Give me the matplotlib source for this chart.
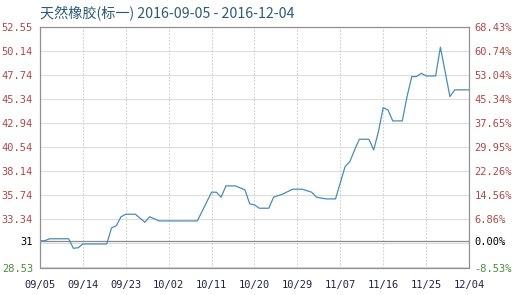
import matplotlib
matplotlib.use("Agg")
import matplotlib.pyplot as plt
import pandas as pd

plt.rcParams['font.family'] = ['Noto Sans CJK SC', 'DejaVu Sans']

title = "天然橡胶(标一) 2016-09-05 - 2016-12-04"
start = "2016-09-05"
day_offsets = [0, 1, 2, 6, 7, 8, 9, 14, 15, 16, 17, 18, 20, 22, 23, 25, 33,
               36, 37, 38, 39, 41, 43, 44, 45, 46, 48, 49, 51, 53, 55, 57, 58,
               60, 62, 64, 65, 66, 67, 69, 70, 71, 72, 73, 74, 76, 77, 78, 79,
               80, 81, 83, 84, 86, 87, 90]
prices = [31.2, 31.2, 31.4, 31.4, 30.45, 30.5, 30.88, 30.88, 32.48, 32.7, 33.6,
          33.85, 33.85, 33.05, 33.6, 33.18, 33.18,
          36.05, 36.05, 35.55, 36.68, 36.68, 36.28, 34.88, 34.78, 34.45, 34.45,
          35.55, 35.88, 36.35, 36.35, 36.05, 35.55,
          35.38, 35.38, 38.6, 39.1, 40.27, 41.34, 41.34, 40.27, 42.1, 44.5,
          44.27, 43.17, 43.17, 45.6, 47.6, 47.6,
          47.93, 47.66, 47.66, 50.53, 45.6, 46.27, 46.27]
base_price = 31.2
y_ticks = [28.53, 30.93, 33.34, 35.74, 38.14, 40.54, 42.94, 45.34, 47.74, 50.14, 52.55]
left_labels = ["28.53", "", "33.34", "35.74", "38.14", "40.54", "42.94", "45.34", "47.74", "50.14", "52.55"]
right_labels = ["-8.53%", "", "6.86%", "14.56%", "22.26%", "29.95%", "37.65%", "45.34%", "53.04%", "60.74%", "68.43%"]
x_tick_labels = ["09/05", "09/14", "09/23", "10/02", "10/11", "10/20", "10/29", "11/07", "11/16", "11/25", "12/04"]

dates = pd.to_datetime(start) + pd.to_timedelta(day_offsets, unit="D")
tick_dates = [pd.Timestamp(f"2016-{s.replace('/', '-')}") for s in x_tick_labels]

fig = plt.figure(figsize=(5.12, 2.95), dpi=100)
ax = fig.add_axes([40/512, 1-267.5/295, 429/512, 240.5/295])

ymin, ymax = 28.53, 52.55
ax.set_ylim(ymin, ymax)
ax.set_xlim(tick_dates[0], tick_dates[-1])

for y in y_ticks:
    ax.axhline(y, color="#dcdcdc", lw=0.8, zorder=0)
for d in tick_dates[1:-1]:
    ax.axvline(d, color="#d0d0d0", lw=0.8, ls=(0, (1.5, 1.5)), zorder=0)
ax.axhline(base_price, color="#8a8a8a", lw=0.9, zorder=1)

ax.plot(dates, prices, color="#4a8cb4", lw=0.9, zorder=2)

mono = "DejaVu Sans Mono"
ax.set_xticks(tick_dates)
ax.set_xticklabels(x_tick_labels, fontsize=7.5, family=mono, color="#222244")
ax.tick_params(axis="x", length=0, pad=9)

ticks = [t for t, l in zip(y_ticks, left_labels) if l] + [base_price]
labels = [l for l in left_labels if l] + ["31"]
ax.set_yticks(ticks)
ax.set_yticklabels(labels, fontsize=7.5, family=mono)
ax.tick_params(axis="y", length=0, pad=5)
for t, lab in zip(ax.get_yticklabels(), labels):
    if lab == "31":
        t.set_color("black")
    elif lab == "28.53":
        t.set_color("#4a8a3a")
    else:
        t.set_color("#b04848")

ax2 = ax.twinx()
ax2.set_ylim(ymin, ymax)
rt = [t for t, l in zip(y_ticks, right_labels) if l] + [base_price]
rl = [l for l in right_labels if l] + ["0.00%"]
ax2.set_yticks(rt)
ax2.set_yticklabels(rl, fontsize=7.5, family=mono)
ax2.tick_params(axis="y", length=0, pad=4)
for t, lab in zip(ax2.get_yticklabels(), rl):
    if lab == "0.00%":
        t.set_color("black")
    elif lab.startswith("-"):
        t.set_color("#4a8a3a")
    else:
        t.set_color("#b04848")

for a in (ax, ax2):
    for s in a.spines.values():
        s.set_color("#909090")
        s.set_linewidth(0.8)

fig.text(40/512, 1-14/295, title, fontsize=10.2, color="#2c5a78", va="center", ha="left")

fig.savefig("out.png", dpi=100)
